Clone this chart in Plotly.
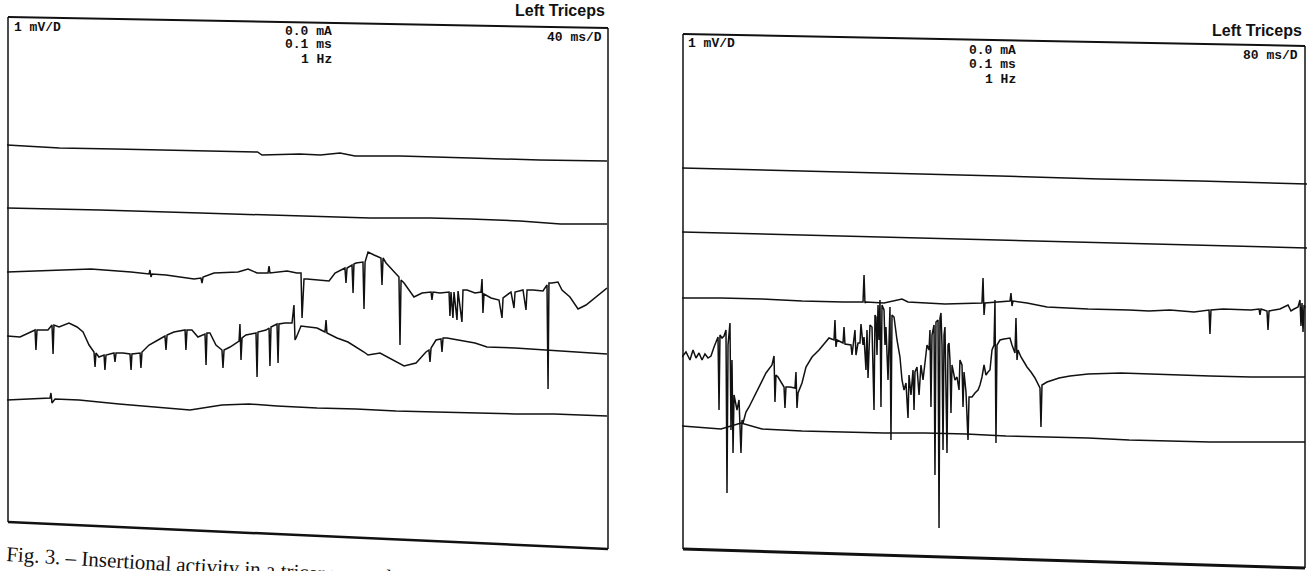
import plotly.graph_objects as go

W, H = 1311, 571

# ---------------- data (time in ms, amplitude in mV, per displayed sweep) -------------
# Left recording, 40 ms/D
left_s1_ms = [0, 35, 72, 129, 167, 170, 195, 209, 222, 232, 262, 309, 355, 400]
left_s1_mv = [2.70, 2.64, 2.62, 2.58, 2.56, 2.50, 2.52, 2.50, 2.54, 2.48, 2.48, 2.44, 2.40, 2.38]

left_s2_ms = [0, 62, 129, 195, 242, 282, 309, 342, 369, 400]
left_s2_mv = [1.44, 1.40, 1.34, 1.28, 1.24, 1.24, 1.22, 1.18, 1.12, 1.12]

left_s3_ms = [0, 22, 56, 82.7, 94.7, 95.3, 96, 96.7, 106, 124.7, 129.3, 130, 130.7, 138, 154, 160.7,
              166.7, 174, 174.7, 175.3, 180, 186.7, 193.3, 196, 196.7, 197.3, 198, 200, 214.7, 218.7,
              225.3, 226, 226.7, 230, 230.7, 231.3, 232.7, 237.3, 238, 238.7, 240.7, 244.7, 249.3, 250,
              250.7, 252.7, 259.3, 261.3, 262, 262.7, 264.7, 271.3, 276.7, 282.7, 283.3, 284, 288.7,
              294.7, 295.3, 296, 297.3, 298, 300, 300.7, 303.3, 304, 306.7, 312, 316, 316.7, 317.3, 318,
              322.7, 328, 330, 330.7, 336, 338, 338.7, 344, 346, 346.7, 350.7, 357.3, 360, 360.7, 361.3,
              363.3, 367.3, 370, 375.3, 380.7, 386, 394, 400]
left_s3_mv = [0.16, 0.18, 0.22, 0.16, 0.12, 0.20, 0.06, 0.12, 0.10, 0.02, 0.04, -0.06, 0.06, 0.14, 0.16, 0.22,
              0.14, 0.14, 0.28, 0.14, 0.16, 0.18, 0.14, 0.14, -0.76, -0.40, 0.02, 0.02, -0.02, 0.14,
              0.24, -0.06, 0.24, 0.30, -0.26, 0.32, 0.34, 0.36, -0.58, 0.36, 0.56, 0.50, 0.44, -0.10,
              0.44, 0.34, 0.14, 0.06, -1.30, 0.00, -0.06, -0.34, -0.26, -0.24, -0.40, -0.24, -0.26,
              -0.24, -0.72, -0.24, -0.76, -0.24, -0.80, -0.22, -0.84, -0.20, -0.20, -0.26, -0.24, 0.02, -0.66, -0.28,
              -0.36, -0.40, -0.76, -0.36, -0.24, -0.56, -0.24, -0.20, -0.60, -0.20, -0.20, -0.22, -0.10, -2.18, -0.06,
              -0.06, -0.04, -0.20, -0.34, -0.58, -0.50, -0.30, -0.16]

left_s4_ms = [0, 8.7, 18.7, 19.3, 20, 27.3, 30, 30.7, 31.3, 34.7, 41.3, 46.7, 50.7, 54.7, 58, 58.7, 59.3,
              61.3, 64.7, 65.3, 66, 71.3, 72, 72.7, 77.3, 82, 82.7, 83.3, 88.7, 89.3, 90, 94.7, 100.7,
              105.3, 106, 106.7, 111.3, 118.7, 119.3, 120, 123.3, 127.3, 132, 132.7, 133.3, 135.3, 139.3,
              143.3, 144, 144.7, 148.7, 154.7, 155.3, 156, 156.7, 159.3, 166, 166.7, 167.3, 172.7, 174.7,
              175.3, 176, 180, 180.7, 181.3, 185.3, 190, 191.3, 192, 192.7, 196, 206.7, 212, 212.7, 213.3,
              220, 227.3, 238, 240.7, 248.7, 259.3, 264.7, 272.7, 279.3, 281.3, 282, 282.7, 286, 289.3,
              290, 290.7, 293.3, 312, 320, 338.7, 359.3, 378, 400]
left_s4_mv = [-1.12, -1.14, -1.00, -1.40, -1.00, -1.00, -0.90, -1.48, -0.90, -0.94, -0.86, -0.94, -1.04, -1.30, -1.44, -1.74, -1.46,
              -1.54, -1.50, -1.80, -1.50, -1.46, -1.64, -1.46, -1.46, -1.48, -1.80, -1.48, -1.46, -1.76, -1.44, -1.30, -1.20,
              -1.12, -1.40, -1.10, -1.04, -1.00, -1.40, -1.00, -1.00, -1.14, -1.08, -1.70, -1.06, -1.06, -1.30,
              -1.40, -1.76, -1.40, -1.34, -1.22, -0.88, -1.60, -1.16, -1.10, -1.06, -1.94, -1.04, -1.00, -0.96,
              -1.72, -0.94, -0.88, -1.66, -0.88, -0.86, -0.86, -0.50, -1.20, -1.16, -0.92, -0.96, -1.04, -0.80, -1.06,
              -1.16, -1.24, -1.44, -1.50, -1.46, -1.64, -1.72, -1.66, -1.44, -1.40, -1.64, -1.36, -1.20, -1.18,
              -1.44, -1.16, -1.16, -1.26, -1.34, -1.36, -1.40, -1.44, -1.48]

left_s5_ms = [0, 27.3, 28.7, 29.3, 30, 32, 48, 74.7, 100.7, 122, 143.3, 161.3, 180, 206.7, 232.7, 259.3,
              286, 312, 338.7, 364.7, 400]
left_s5_mv = [-2.40, -2.36, -2.36, -2.26, -2.46, -2.38, -2.40, -2.48, -2.54, -2.60, -2.50, -2.48, -2.52, -2.56, -2.58, -2.62,
              -2.64, -2.66, -2.68, -2.68, -2.72]

# Right recording, 80 ms/D
right_s1_ms = [0, 151, 279, 407, 535, 663, 800]
right_s1_mv = [2.60, 2.54, 2.50, 2.44, 2.38, 2.34, 2.28]

right_s2_ms = [0, 151, 279, 407, 535, 663, 800]
right_s2_mv = [1.32, 1.26, 1.20, 1.16, 1.10, 1.06, 1.00]

right_s3_ms = [0, 49.9, 102.4, 153.6, 206.1, 231.7, 233, 234.2, 235.5, 258.6, 281.6, 289.3, 336.6, 384,
               385.3, 386.6, 387.8, 404.5, 419.8, 421.1, 422.4, 423.7, 441.6, 467.2, 494.1, 519.7, 572.2,
               597.8, 624.6, 655.4, 674.6, 675.8, 677.1, 692.5, 728.3, 738.6, 739.8, 741.1, 748.8, 750.1,
               751.4, 765.4, 775.7, 779.5, 783.4, 788.5, 791, 792.3, 793.6, 794.9, 796.2, 797.4]
right_s3_mv = [0.00, 0.00, -0.02, -0.06, -0.08, -0.08, 0.46, -0.10, -0.08, -0.10, -0.02, -0.08, -0.12, -0.10,
               0.40, -0.34, -0.10, -0.08, -0.06, 0.10, -0.16, -0.06, -0.10, -0.18, -0.20, -0.22, -0.24,
               -0.26, -0.24, -0.28, -0.24, -0.72, -0.24, -0.22, -0.24, -0.22, -0.34, -0.22, -0.26, -0.64,
               -0.26, -0.22, -0.14, -0.26, -0.22, -0.18, -0.04, -0.56, -0.10, -0.68, -0.14, -0.20]

right_s4_ms = [0, 5.1, 10.2, 14.1, 17.9, 21.8, 25.6, 29.4, 33.3, 37.1, 41, 43.5, 46.1, 47.4, 48.6, 51.2,
               53.8, 56.3, 57.6, 58.9, 61.4, 62.7, 64, 65.3, 66.6, 70.4, 73, 75.5, 76.8, 78.1, 81.9, 85.8,
               92.2, 97.3, 107.5, 115.2, 117.8, 119, 120.3, 122.9, 130.6, 131.8, 133.1, 138.2, 144.6, 145.9,
               147.2, 148.5, 153.6, 158.7, 166.4, 175.4, 188.2, 194.6, 195.8, 197.1, 198.4, 206.1, 207.4,
               208.6, 216.3, 217.6, 221.4, 222.7, 225.3, 227.8, 229.1, 231.7, 233, 235.5, 236.8, 238.1,
               240.6, 243.2, 244.5, 245.8, 247, 248.3, 249.6, 250.9, 252.2, 253.4, 254.7, 256, 258.6, 259.8,
               261.1, 263.7, 266.2, 267.5, 268.8, 271.4, 275.2, 279, 281.6, 284.2, 286.7, 289.3, 290.6,
               293.1, 295.7, 297, 298.2, 300.8, 303.4, 305.9, 308.5, 311, 313.6, 316.2, 317.4, 318.7, 320,
               322.6, 323.8, 325.1, 327.7, 329, 330.2, 331.5, 332.8, 334.1, 335.4, 336.6, 337.9, 339.2,
               340.5, 341.8, 343, 344.3, 345.6, 349.4, 352, 354.6, 355.8, 358.4, 359.7, 361, 363.5, 366.1,
               367.4, 371.2, 375, 378.9, 381.4, 384, 386.6, 389.1, 391.7, 394.2, 396.8, 399.4, 400.6, 401.9,
               403.2, 407, 412.2, 417.3, 419.8, 422.4, 426.2, 427.5, 428.8, 430.1, 433.9, 437.8, 441.6,
               446.7, 451.8, 458.2, 459.5, 460.8, 467.2, 474.9, 482.6, 496.6, 519.7, 561.9, 592.6, 624.6,
               675.8, 728.3, 797.4]
right_s4_mv = [-1.18, -1.08, -1.24, -1.04, -1.20, -1.10, -1.24, -1.12, -1.20, -1.16, -0.98, -0.88, -0.78, -2.24, -0.74, -0.80,
               -0.76, -0.64, -3.90, -0.94, -0.50, -2.64, -1.24, -3.10, -1.94, -2.24, -2.04, -3.10, -2.44, -2.50, -2.28, -2.18,
               -1.98, -1.84, -1.50, -1.34, -1.16, -2.08, -1.54, -1.58, -1.78, -2.20, -1.78, -1.78, -1.80, -1.48,
               -2.20, -1.90, -1.70, -1.38, -1.18, -1.04, -0.80, -0.84, -0.44, -0.98, -0.84, -0.90, -0.58,
               -0.92, -0.94, -1.14, -0.64, -1.14, -0.90, -0.90, -0.52, -0.94, -0.78, -1.44, -0.64, -1.60,
               -0.54, -0.58, -1.24, -2.24, -0.34, -0.38, -1.14, -0.14, -0.84, -0.04, -2.18, -0.14, -0.24, -0.94,
               -0.58, -1.64, -0.18, -2.84, -0.34, -0.38, -0.84, -1.18, -1.64, -1.84, -1.70, -2.40, -1.54,
               -1.94, -1.44, -2.24, -1.48, -1.38, -1.94, -1.34, -1.64, -1.24, -0.94, -1.04, -0.64, -2.18, -0.74,
               -0.54, -3.54, -0.48, -0.44, -4.60, -0.40, -0.30, -0.94, -3.04, -0.74, -0.58, -1.64, -3.10,
               -0.94, -0.90, -1.24, -2.30, -1.34, -1.64, -1.58, -1.84, -1.24, -1.34, -2.18, -1.48, -1.88, -2.84,
               -1.98, -1.98, -1.90, -1.84, -1.74, -1.58, -1.34, -1.54, -1.48, -1.44, -1.04, -0.94, -0.04, -2.90,
               -0.94, -0.84, -0.82, -0.80, -0.80, -0.94, -1.10, -0.40, -1.24, -1.04, -1.18, -1.28, -1.38,
               -1.48, -1.60, -1.80, -2.58, -1.74, -1.68, -1.64, -1.60, -1.56, -1.52, -1.50, -1.52, -1.54,
               -1.56, -1.58, -1.58]

right_s5_ms = [0, 49.9, 75.5, 102.4, 153.6, 206.1, 258.6, 311, 363.5, 414.7, 467.2, 519.7, 572.2, 624.6,
               675.8, 728.3, 797.4]
right_s5_mv = [-2.56, -2.62, -2.50, -2.62, -2.66, -2.68, -2.70, -2.70, -2.72, -2.76, -2.78, -2.80, -2.84, -2.86,
               -2.88, -2.88, -2.88]

left_sweeps = [(left_s1_ms, left_s1_mv), (left_s2_ms, left_s2_mv), (left_s3_ms, left_s3_mv),
               (left_s4_ms, left_s4_mv), (left_s5_ms, left_s5_mv)]
right_sweeps = [(right_s1_ms, right_s1_mv), (right_s2_ms, right_s2_mv), (right_s3_ms, right_s3_mv),
                (right_s4_ms, right_s4_mv), (right_s5_ms, right_s5_mv)]

panel_labels = {
    "muscle": "Left Triceps",
    "gain": "1 mV/D",
    "settings": ["0.0 mA", "0.1 ms", "1 Hz"],
    "sweep_left": "40 ms/D",
    "sweep_right": "80 ms/D",
}
caption = "Fig. 3. – Insertional activity in a triceps muscle"

# ---------------- figure -------------------------------------------------------------
def px(x):
    return x / W

def py(y):
    return 1 - y / H

INK = "#111111"
fig = go.Figure()

for t, v in left_sweeps:
    fig.add_trace(go.Scatter(x=t, y=v, mode="lines", line=dict(color=INK, width=1.5),
                             xaxis="x", yaxis="y", showlegend=False, hoverinfo="skip"))
for t, v in right_sweeps:
    fig.add_trace(go.Scatter(x=t, y=v, mode="lines", line=dict(color=INK, width=1.5),
                             xaxis="x2", yaxis="y2", showlegend=False, hoverinfo="skip"))

ax_common = dict(visible=False, showgrid=False, zeroline=False, fixedrange=True)
fig.update_layout(
    width=W, height=H, autosize=False,
    margin=dict(l=0, r=0, t=0, b=0),
    paper_bgcolor="white", plot_bgcolor="rgba(0,0,0,0)",
    xaxis=dict(domain=[px(7), px(607)], range=[0, 400], **ax_common),
    yaxis=dict(domain=[py(540), py(20)], range=[-5.2, 5.2], **ax_common),
    xaxis2=dict(domain=[px(682), px(1307)], range=[0, 800], anchor="y2", **ax_common),
    yaxis2=dict(domain=[py(556), py(40)], range=[-5.16, 5.16], anchor="x2", **ax_common),
)

# skewed frames of the scanned screens
def frame(tl, tr, br, bl, w_top, w_side, w_bot):
    segs = [(tl, tr, w_top), (tr, br, w_side), (bl, br, w_bot), (tl, bl, w_side)]
    return [dict(type="line", xref="paper", yref="paper", x0=px(a[0]), y0=py(a[1]),
                 x1=px(b[0]), y1=py(b[1]), line=dict(color=INK, width=w)) for a, b, w in segs]

shapes = frame((8, 17), (608, 28), (608, 549), (8, 522), 2, 1.5, 2.5)
shapes += frame((683, 34), (1305, 46), (1305, 568), (683, 549), 2, 1.5, 3)
fig.update_layout(shapes=shapes)

MONO = "Liberation Mono, DejaVu Sans Mono, monospace"
SANS = "Liberation Sans Narrow, Liberation Sans, Arial, sans-serif"
SERIF = "Liberation Serif, DejaVu Serif, serif"

def ann(text, x, y, xanchor, family, size, angle=0):
    fig.add_annotation(text=text, x=px(x), y=py(y), xref="paper", yref="paper",
                       xanchor=xanchor, yanchor="middle", showarrow=False, textangle=angle,
                       font=dict(family=family, size=size, color=INK))

# left screen texts
ann("<b>" + panel_labels["muscle"] + "</b>", 607, 10, "right", SANS, 16)
ann("<b>" + panel_labels["gain"] + "</b>", 12, 28, "left", MONO, 13)
for i, s in enumerate(panel_labels["settings"]):
    ann("<b>" + s + "</b>", 334, 31 + 14 * i, "right", MONO, 13)
ann("<b>" + panel_labels["sweep_left"] + "</b>", 604, 37, "right", MONO, 13)

# right screen texts
ann("<b>" + panel_labels["muscle"] + "</b>", 1304, 30, "right", SANS, 16)
ann("<b>" + panel_labels["gain"] + "</b>", 686, 44, "left", MONO, 13)
for i, s in enumerate(panel_labels["settings"]):
    ann("<b>" + s + "</b>", 1018, 51 + 14 * i, "right", MONO, 13)
ann("<b>" + panel_labels["sweep_right"] + "</b>", 1300, 56, "right", MONO, 13)

# caption (partly cut by the page edge)
ann(caption, 4, 566, "left", SERIF, 21, angle=3.5)

fig.write_html(
    "out.html",
    config={"displayModeBar": False},
    post_script="document.body.style.margin='0px';document.body.style.overflow='hidden';",
)
